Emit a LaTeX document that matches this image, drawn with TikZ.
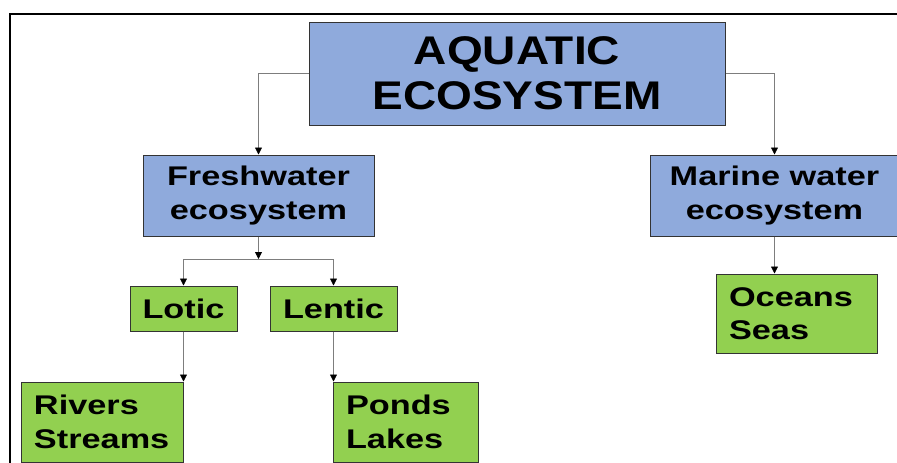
\documentclass[tikz,border=0pt]{standalone}
\usepackage{fontspec}
\newfontfamily\titlefont{Liberation Sans}[FakeStretch=1.15]
\newfontfamily\boxfont{Liberation Sans}[FakeStretch=1.27]
\usetikzlibrary{arrows.meta}
\definecolor{boxblue}{RGB}{143,170,220}
\definecolor{boxgreen}{RGB}{146,208,80}
\definecolor{linkgray}{RGB}{125,125,125}

\begin{document}
\begin{tikzpicture}[x=1pt, y=-1pt,
    titlebox/.style={draw=black!80, line width=1pt, fill=boxblue, align=center,
                     inner sep=0pt, font=\titlefont\bfseries\fontsize{40}{45.3}\selectfont},
    bluebox/.style={draw=black!80, line width=1pt, fill=boxblue, align=center,
                    inner sep=0pt, font=\boxfont\bfseries\fontsize{27}{33.5}\selectfont},
    greenbox/.style={bluebox, fill=boxgreen},
    leafbox/.style={greenbox, align=left, inner xsep=13pt, inner ysep=0pt},
    link/.style={draw=linkgray, line width=0.8pt,
                 -{Triangle[width=7pt, length=7pt, color=black]}}]
  \clip (0,0) rectangle (897,463);

  % Frame
  \draw[line width=1.5pt] (10,480) -- (10,14) -- (910,14);

  % Top level
  \node[titlebox, minimum width=416pt, minimum height=103pt] (aquatic) at (517,73.5)
    {AQUATIC\\ECOSYSTEM};

  % Second level
  \node[bluebox, minimum width=231pt, minimum height=81pt] (fresh) at (258.5,195.5)
    {Freshwater\\ecosystem};
  \node[bluebox, minimum width=249pt, minimum height=81pt] (marine) at (774.5,195.5)
    {Marine water\\ecosystem};

  % Freshwater types
  \node[greenbox, minimum width=107pt, minimum height=45pt] (lotic) at (183.5,308.5) {Lotic};
  \node[greenbox, minimum width=127pt, minimum height=45pt] (lentic) at (333.5,308.5) {Lentic};

  % Examples
  \node[leafbox, text width=136pt, minimum height=80pt] (rivers) at (102,422) {Rivers\\Streams};
  \node[leafbox, text width=119pt, minimum height=80pt] (ponds) at (405.5,422) {Ponds\\Lakes};
  \node[leafbox, text width=135pt, minimum height=79pt] (oceans) at (796.5,313.5) {Oceans\\Seas};

  % Connectors
  \draw[link] (aquatic.west) -| (fresh.north);
  \draw[link] (aquatic.east) -| (marine.north);

  \coordinate (split) at (258.5,259);
  \draw[link] (fresh.south) -- (split);
  \draw[draw=linkgray, line width=0.8pt] (lotic.north |- split) -- (lentic.north |- split);
  \draw[link] (lotic.north |- split) -- (lotic.north);
  \draw[link] (lentic.north |- split) -- (lentic.north);

  \draw[link] (lotic.south) -- (lotic.south |- rivers.north);
  \draw[link] (lentic.south) -- (lentic.south |- ponds.north);
  \draw[link] (marine.south) -- (marine.south |- oceans.north);
\end{tikzpicture}
\end{document}
